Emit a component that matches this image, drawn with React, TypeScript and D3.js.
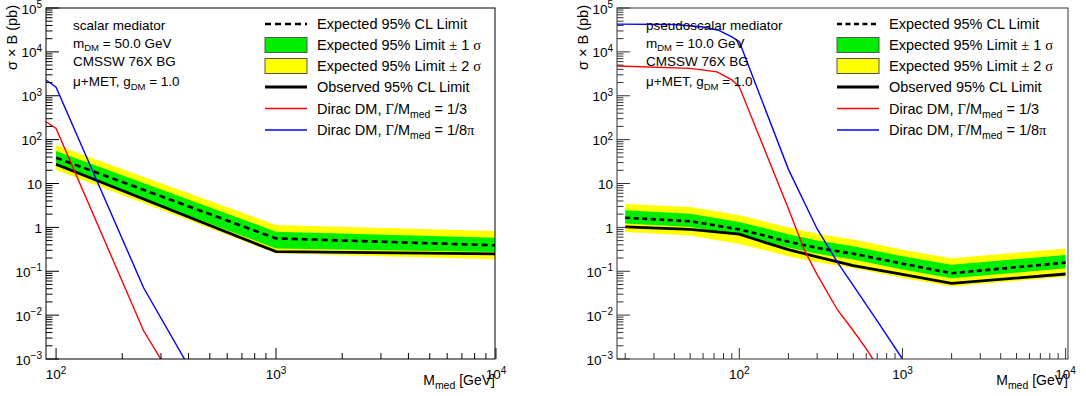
import React from 'react';
import * as d3 from 'd3';

const W = 1086;
const H = 396;

// ---------- Left panel: scalar mediator, m_DM = 50 GeV ----------
const scalarMass = [100, 1000, 10000];
const scalarExpected = [38.7, 0.56, 0.39];
const scalarObserved = [27.4, 0.28, 0.25];
const scalarUp1 = [55, 0.8, 0.58];
const scalarDn1 = [25, 0.33, 0.275];
const scalarUp2 = [75.5, 1.13, 0.83];
const scalarDn2 = [20.3, 0.256, 0.187];
const scalarRedMass = [90, 100, 250, 300, 400];
const scalarRed = [256, 180, 0.0044, 0.00098, 0.00008];
const scalarBlueMass = [90, 100, 250, 400];
const scalarBlue = [2285, 1560, 0.042, 0.00069];

// ---------- Right panel: pseudoscalar mediator, m_DM = 10 GeV ----------
const pseudoMass = [20, 50, 100, 150, 200, 300, 500, 1000, 2000, 10000];
const pseudoExpected = [1.66, 1.38, 0.9, 0.62, 0.47, 0.34, 0.25, 0.149, 0.09, 0.157];
const pseudoObserved = [1.03, 0.9, 0.7, 0.43, 0.31, 0.213, 0.135, 0.085, 0.053, 0.0865];
const pseudoUp1 = [2.45, 2.05, 1.33, 0.92, 0.7, 0.5, 0.37, 0.22, 0.14, 0.235];
const pseudoDn1 = [1.22, 1.02, 0.67, 0.46, 0.35, 0.25, 0.185, 0.11, 0.069, 0.117];
const pseudoUp2 = [3.4, 2.9, 1.9, 1.3, 1.0, 0.72, 0.53, 0.31, 0.197, 0.33];
const pseudoDn2 = [0.78, 0.65, 0.42, 0.29, 0.22, 0.16, 0.118, 0.07, 0.045, 0.075];
const pseudoRedMass = [17, 50, 73, 90, 100, 200, 250, 300, 400, 500, 600, 700];
const pseudoRed = [4800, 4200, 3500, 2300, 1600, 2.67, 0.31, 0.084, 0.0131, 0.0044, 0.0017, 0.0007];
const pseudoBlueMass = [17, 40, 60, 75, 90, 100, 200, 300, 400, 500, 700, 1000];
const pseudoBlue = [43000, 42000, 37000, 31000, 22000, 17000, 21, 0.92, 0.16, 0.047, 0.0074, 0.001];

const yDecades = [-3, -2, -1, 0, 1, 2, 3, 4, 5];
const xDecades = [1, 2, 3, 4];

const legendLabels = [
  'Expected 95% CL Limit',
  'Expected 95% Limit ± 1 σ',
  'Expected 95% Limit ± 2 σ',
  'Observed 95% CL Limit',
  'Dirac DM, Γ/M_med = 1/3',
  'Dirac DM, Γ/M_med = 1/8π',
];

const SANS = "'Liberation Sans', Arial, Helvetica, sans-serif";
const SERIF = "'Liberation Serif', 'Times New Roman', serif";

type PanelProps = {
  id: string;
  left: number;
  right: number;
  top: number;
  bottom: number;
  xDomain: [number, number];
  mass: number[];
  expected: number[];
  observed: number[];
  up1: number[];
  dn1: number[];
  up2: number[];
  dn2: number[];
  redMass: number[];
  red: number[];
  blueMass: number[];
  blue: number[];
  title: string;
  mdm: string;
  textX: number;
  legendX: number;
  frame: string;
  dash: string;
};

function Pow({ exp, x, y, anchor }: { exp: number; x: number; y: number; anchor: string }) {
  if (exp === 0) return <text x={x} y={y} textAnchor={anchor} fontSize={13.5}>1</text>;
  if (exp === 1) return <text x={x} y={y} textAnchor={anchor} fontSize={13.5}>10</text>;
  const e = exp < 0 ? '\u2212' + Math.abs(exp) : String(exp);
  return (
    <text x={x} y={y} textAnchor={anchor} fontSize={13.5}>
      10
      <tspan fontSize={10} dy={-5.5}>{e}</tspan>
    </text>
  );
}

function LegendText({ label, x, y }: { label: string; x: number; y: number }) {
  const fs = 14.5;
  if (label.includes('±')) {
    const [a, b] = label.split('±');
    const n = b.trim().split(' ')[0];
    return (
      <text x={x} y={y} fontSize={fs}>
        {a}
        <tspan fontFamily={SERIF}>±</tspan>
        {' ' + n + ' '}
        <tspan fontFamily={SERIF}>σ</tspan>
      </text>
    );
  }
  if (label.includes('Γ')) {
    const frac = label.split('= ')[1];
    const isPi = frac.endsWith('π');
    return (
      <text x={x} y={y} fontSize={fs}>
        {'Dirac DM, '}
        <tspan fontFamily={SERIF}>Γ</tspan>
        {'/M'}
        <tspan fontSize={10.5} dy={4}>med</tspan>
        <tspan dy={-4}>{' = ' + (isPi ? frac.slice(0, -1) : frac)}</tspan>
        {isPi ? <tspan fontFamily={SERIF}>π</tspan> : null}
      </text>
    );
  }
  return (
    <text x={x} y={y} fontSize={fs}>
      {label}
    </text>
  );
}

function Panel(p: PanelProps) {
  const x = d3.scaleLog().domain(p.xDomain).range([p.left, p.right]);
  const y = d3.scaleLog().domain([1e-3, 1e5]).range([p.bottom, p.top]);

  const idx = p.mass.map((_, i) => i);
  const band = (lo: number[], hi: number[]) =>
    d3
      .area<number>()
      .x((i) => x(p.mass[i]))
      .y0((i) => y(lo[i]))
      .y1((i) => y(hi[i]))(idx) || '';
  const line = (xs: number[], ys: number[]) =>
    d3
      .line<number>()
      .x((i) => x(xs[i]))
      .y((i) => y(ys[i]))(xs.map((_, i) => i)) || '';

  const yMinor: number[] = [];
  for (let e = -3; e < 5; e++) for (let m = 2; m <= 9; m++) yMinor.push(m * Math.pow(10, e));
  const xMinor: number[] = [];
  for (let e = 1; e < 4; e++)
    for (let m = 2; m <= 9; m++) {
      const v = m * Math.pow(10, e);
      if (v > p.xDomain[0] && v < p.xDomain[1]) xMinor.push(v);
    }
  const xMajor = xDecades.map((d) => Math.pow(10, d)).filter((v) => v >= p.xDomain[0] && v <= p.xDomain[1] * 1.05);

  const rowY = [24, 45, 66, 87, 108.5, 130];
  const kx0 = p.legendX;
  const kx1 = p.legendX + 42;
  const tx = p.legendX + 52;
  const clipId = 'clip-' + p.id;

  return (
    <g fontFamily={SANS} fill="#000">
      <defs>
        <clipPath id={clipId}>
          <rect x={p.left} y={p.top} width={p.right - p.left} height={p.bottom - p.top} />
        </clipPath>
      </defs>
      <g clipPath={`url(#${clipId})`}>
        <path d={band(p.dn2, p.up2)} fill="#ffff00" />
        <path d={band(p.dn1, p.up1)} fill="#00ee00" />
        <path d={line(p.mass, p.expected)} fill="none" stroke="#000" strokeWidth={2.6} strokeDasharray={p.dash} />
        <path d={line(p.mass, p.observed)} fill="none" stroke="#000" strokeWidth={2.8} />
        <path d={line(p.redMass, p.red)} fill="none" stroke="#ff0000" strokeWidth={1.4} />
        <path d={line(p.blueMass, p.blue)} fill="none" stroke="#0000ff" strokeWidth={1.4} />
      </g>

      {/* frame */}
      <rect x={p.left} y={p.top} width={p.right - p.left} height={p.bottom - p.top} fill="none" stroke={p.frame} strokeWidth={1} />

      {/* y ticks */}
      {yDecades.map((d) => (
        <line key={'ym' + d} x1={p.left} x2={p.left + 13} y1={y(Math.pow(10, d))} y2={y(Math.pow(10, d))} stroke={p.frame} />
      ))}
      {yMinor.map((v, i) => (
        <line key={'yn' + i} x1={p.left} x2={p.left + 6.5} y1={y(v)} y2={y(v)} stroke={p.frame} />
      ))}
      {yDecades.map((d) => (
        <Pow key={'yl' + d} exp={d} x={p.left - 4} y={y(Math.pow(10, d)) + 5.5} anchor="end" />
      ))}

      {/* x ticks */}
      {xMajor.map((v) => (
        <line key={'xm' + v} x1={x(v)} x2={x(v)} y1={p.bottom} y2={p.bottom - 11} stroke={p.frame} />
      ))}
      {xMinor.map((v, i) => (
        <line key={'xn' + i} x1={x(v)} x2={x(v)} y1={p.bottom} y2={p.bottom - 6} stroke={p.frame} />
      ))}
      {xMajor.map((v) => (
        <Pow key={'xl' + v} exp={Math.round(Math.log10(v))} x={x(v)} y={p.bottom + 20} anchor="middle" />
      ))}

      {/* axis titles */}
      <text x={p.right} y={p.bottom + 26} textAnchor="end" fontSize={14}>
        M<tspan fontSize={10.5} dy={4}>med</tspan>
        <tspan dy={-4}> [GeV]</tspan>
      </text>
      <text transform={`translate(${p.left - 29},${p.top - 3}) rotate(-90)`} textAnchor="end" fontSize={14.5}>
        σ × B (pb)
      </text>

      {/* info text */}
      <text x={p.textX} y={30} fontSize={13.5}>{p.title}</text>
      <text x={p.textX} y={47.5} fontSize={13.5}>
        m<tspan fontSize={9.5} dy={3.5}>DM</tspan>
        <tspan dy={-3.5}>{' = ' + p.mdm + ' GeV'}</tspan>
      </text>
      <text x={p.textX} y={65.5} fontSize={13.5}>CMSSW 76X BG</text>
      <text x={p.textX} y={86} fontSize={13.5}>
        {'μ+MET, g'}
        <tspan fontSize={9.5} dy={3.5}>DM</tspan>
        <tspan dy={-3.5}> = 1.0</tspan>
      </text>

      {/* legend */}
      <line x1={kx0} x2={kx1} y1={rowY[0]} y2={rowY[0]} stroke="#000" strokeWidth={2.6} strokeDasharray={p.dash} />
      <rect x={kx0} y={rowY[1] - 7.5} width={kx1 - kx0} height={15} fill="#00ee00" stroke="#555" strokeWidth={1} />
      <rect x={kx0} y={rowY[2] - 7.5} width={kx1 - kx0} height={15} fill="#ffff00" stroke="#555" strokeWidth={1} />
      <line x1={kx0} x2={kx1} y1={rowY[3]} y2={rowY[3]} stroke="#000" strokeWidth={2.8} />
      <line x1={kx0} x2={kx1} y1={rowY[4]} y2={rowY[4]} stroke="#ff0000" strokeWidth={1.4} />
      <line x1={kx0} x2={kx1} y1={rowY[5]} y2={rowY[5]} stroke="#0000ff" strokeWidth={1.4} />
      {legendLabels.map((l, i) => (
        <LegendText key={'lg' + i} label={l} x={tx} y={rowY[i] + 5} />
      ))}
    </g>
  );
}

export default function App() {
  return (
    <svg
      width={W}
      height={H}
      viewBox={`0 0 ${W} ${H}`}
      style={{ position: 'absolute', left: 0, top: 0, background: '#fff' }}
    >
      <rect x={0} y={0} width={W} height={H} fill="#fff" />
      <Panel
        id="scalar"
        left={46}
        right={495}
        top={8}
        bottom={359}
        xDomain={[90, 9900]}
        mass={scalarMass}
        expected={scalarExpected}
        observed={scalarObserved}
        up1={scalarUp1}
        dn1={scalarDn1}
        up2={scalarUp2}
        dn2={scalarDn2}
        redMass={scalarRedMass}
        red={scalarRed}
        blueMass={scalarBlueMass}
        blue={scalarBlue}
        title="scalar mediator"
        mdm="50.0"
        textX={73}
        legendX={265}
        frame="#000"
        dash="6,4"
      />
      <Panel
        id="pseudo"
        left={617}
        right={1068}
        top={8}
        bottom={359}
        xDomain={[17.8, 10340]}
        mass={pseudoMass}
        expected={pseudoExpected}
        observed={pseudoObserved}
        up1={pseudoUp1}
        dn1={pseudoDn1}
        up2={pseudoUp2}
        dn2={pseudoDn2}
        redMass={pseudoRedMass}
        red={pseudoRed}
        blueMass={pseudoBlueMass}
        blue={pseudoBlue}
        title="pseudoscalar mediator"
        mdm="10.0"
        textX={646}
        legendX={837}
        frame="#333"
        dash="5,3.5"
      />
    </svg>
  );
}
